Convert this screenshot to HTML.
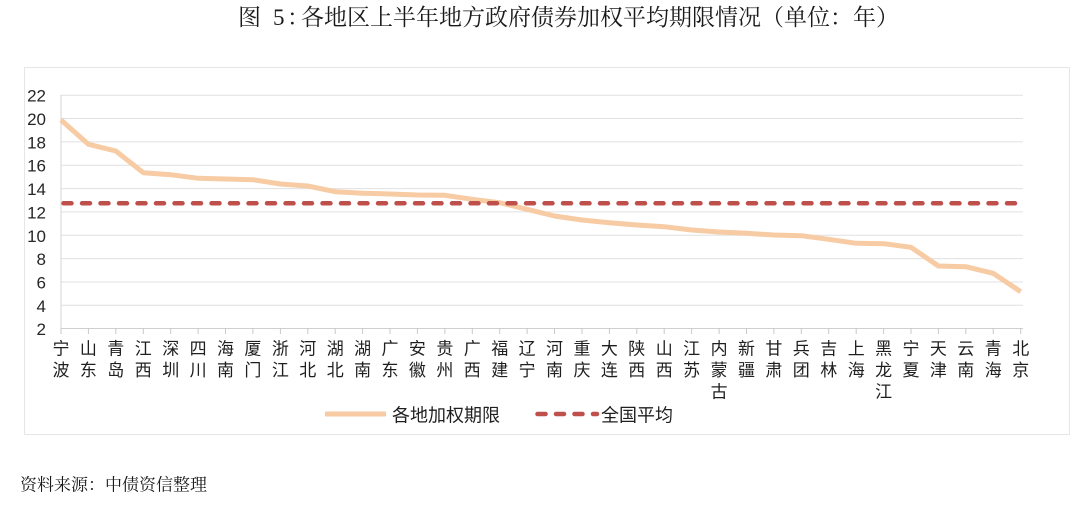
<!DOCTYPE html>
<html>
<head>
<meta charset="utf-8">
<style>
html,body{margin:0;padding:0;background:#fff;}
svg{display:block;}
</style>
</head>
<body>
<svg width="1080" height="509" viewBox="0 0 1080 509" xmlns="http://www.w3.org/2000/svg">
<rect x="0" y="0" width="1080" height="509" fill="#ffffff"/>
<!-- title -->
<g font-family="'Liberation Serif','Noto Serif CJK SC',serif" font-size="23" fill="#1a1a1a">
<text x="238" y="25">图</text>
<text x="273" y="25">5</text>
<text x="287" y="25">：</text>
<text x="301" y="25">各地区上半年地方政府债券加权平均期限情况（单位：年）</text>
</g>
<!-- chart border -->
<rect x="24.5" y="67.5" width="1045" height="367" fill="none" stroke="#e6e6e6" stroke-width="1"/>
<!-- gridlines -->
<g stroke="#e0e0e0" stroke-width="1">
<line x1="61" y1="95.2" x2="1023" y2="95.2"/>
<line x1="61" y1="118.5" x2="1023" y2="118.5"/>
<line x1="61" y1="141.9" x2="1023" y2="141.9"/>
<line x1="61" y1="165.2" x2="1023" y2="165.2"/>
<line x1="61" y1="188.6" x2="1023" y2="188.6"/>
<line x1="61" y1="211.9" x2="1023" y2="211.9"/>
<line x1="61" y1="235.3" x2="1023" y2="235.3"/>
<line x1="61" y1="258.6" x2="1023" y2="258.6"/>
<line x1="61" y1="282.0" x2="1023" y2="282.0"/>
<line x1="61" y1="305.3" x2="1023" y2="305.3"/>
</g>
<!-- axes -->
<line x1="61" y1="95" x2="61" y2="328.5" stroke="#d6d6d6" stroke-width="1"/>
<line x1="61" y1="328.5" x2="1023" y2="328.5" stroke="#d0d0d0" stroke-width="1"/>
<g stroke="#c8c8c8" stroke-width="1">
<line x1="61" y1="328" x2="61" y2="334"/>
<line x1="88.4" y1="328" x2="88.4" y2="334"/>
<line x1="115.8" y1="328" x2="115.8" y2="334"/>
<line x1="143.3" y1="328" x2="143.3" y2="334"/>
<line x1="170.7" y1="328" x2="170.7" y2="334"/>
<line x1="198.1" y1="328" x2="198.1" y2="334"/>
<line x1="225.5" y1="328" x2="225.5" y2="334"/>
<line x1="252.9" y1="328" x2="252.9" y2="334"/>
<line x1="280.4" y1="328" x2="280.4" y2="334"/>
<line x1="307.8" y1="328" x2="307.8" y2="334"/>
<line x1="335.2" y1="328" x2="335.2" y2="334"/>
<line x1="362.6" y1="328" x2="362.6" y2="334"/>
<line x1="390.0" y1="328" x2="390.0" y2="334"/>
<line x1="417.4" y1="328" x2="417.4" y2="334"/>
<line x1="444.9" y1="328" x2="444.9" y2="334"/>
<line x1="472.3" y1="328" x2="472.3" y2="334"/>
<line x1="499.7" y1="328" x2="499.7" y2="334"/>
<line x1="527.1" y1="328" x2="527.1" y2="334"/>
<line x1="554.5" y1="328" x2="554.5" y2="334"/>
<line x1="582.0" y1="328" x2="582.0" y2="334"/>
<line x1="609.4" y1="328" x2="609.4" y2="334"/>
<line x1="636.8" y1="328" x2="636.8" y2="334"/>
<line x1="664.2" y1="328" x2="664.2" y2="334"/>
<line x1="691.6" y1="328" x2="691.6" y2="334"/>
<line x1="719.1" y1="328" x2="719.1" y2="334"/>
<line x1="746.5" y1="328" x2="746.5" y2="334"/>
<line x1="773.9" y1="328" x2="773.9" y2="334"/>
<line x1="801.3" y1="328" x2="801.3" y2="334"/>
<line x1="828.7" y1="328" x2="828.7" y2="334"/>
<line x1="856.2" y1="328" x2="856.2" y2="334"/>
<line x1="883.6" y1="328" x2="883.6" y2="334"/>
<line x1="911.0" y1="328" x2="911.0" y2="334"/>
<line x1="938.4" y1="328" x2="938.4" y2="334"/>
<line x1="965.8" y1="328" x2="965.8" y2="334"/>
<line x1="993.2" y1="328" x2="993.2" y2="334"/>
<line x1="1020.7" y1="328" x2="1020.7" y2="334"/>
</g>
<!-- y labels -->
<g font-family="'Liberation Sans','Noto Sans CJK SC',sans-serif" font-size="17" fill="#262626" text-anchor="end">
<text x="46" y="101.7">22</text>
<text x="46" y="125.0">20</text>
<text x="46" y="148.4">18</text>
<text x="46" y="171.7">16</text>
<text x="46" y="195.1">14</text>
<text x="46" y="218.4">12</text>
<text x="46" y="241.8">10</text>
<text x="46" y="265.1">8</text>
<text x="46" y="288.5">6</text>
<text x="46" y="311.8">4</text>
<text x="46" y="335.2">2</text>
</g>
<!-- series: regional -->
<polyline fill="none" stroke="#f7cba3" stroke-width="5" stroke-linejoin="round" stroke-linecap="butt"
points="61,120 88.4,144.3 115.8,151 143.3,172.7 170.7,174.7 198.1,178.3 225.5,179 252.9,179.7 280.4,184 307.8,186 335.2,191.7 362.6,193.3 390,194 417.4,195 444.9,195.3 472.3,199.3 499.7,202.7 527.1,209.3 554.5,216 582,220 609.4,222.7 636.8,225 664.2,226.7 691.6,230 719.1,232 746.5,233.3 773.9,235 801.3,235.7 828.7,239.3 856.2,243.3 883.6,243.7 911,247.3 938.4,266 965.8,266.7 993.2,273.3 1020.7,291.7"/>
<!-- series: national average -->
<line x1="63.5" y1="203.3" x2="1021" y2="203.3" stroke="#be4f4b" stroke-width="4.5" stroke-linecap="round" stroke-dasharray="8 10.5"/>
<!-- x labels -->
<g font-family="'Liberation Sans','Noto Sans CJK SC',sans-serif" font-size="17" fill="#1f1f1f" text-anchor="middle">
<text y="354.3"><tspan x="61">宁</tspan><tspan x="61" dy="21.7">波</tspan></text>
<text y="354.3"><tspan x="88.4">山</tspan><tspan x="88.4" dy="21.7">东</tspan></text>
<text y="354.3"><tspan x="115.8">青</tspan><tspan x="115.8" dy="21.7">岛</tspan></text>
<text y="354.3"><tspan x="143.3">江</tspan><tspan x="143.3" dy="21.7">西</tspan></text>
<text y="354.3"><tspan x="170.7">深</tspan><tspan x="170.7" dy="21.7">圳</tspan></text>
<text y="354.3"><tspan x="198.1">四</tspan><tspan x="198.1" dy="21.7">川</tspan></text>
<text y="354.3"><tspan x="225.5">海</tspan><tspan x="225.5" dy="21.7">南</tspan></text>
<text y="354.3"><tspan x="252.9">厦</tspan><tspan x="252.9" dy="21.7">门</tspan></text>
<text y="354.3"><tspan x="280.4">浙</tspan><tspan x="280.4" dy="21.7">江</tspan></text>
<text y="354.3"><tspan x="307.8">河</tspan><tspan x="307.8" dy="21.7">北</tspan></text>
<text y="354.3"><tspan x="335.2">湖</tspan><tspan x="335.2" dy="21.7">北</tspan></text>
<text y="354.3"><tspan x="362.6">湖</tspan><tspan x="362.6" dy="21.7">南</tspan></text>
<text y="354.3"><tspan x="390.0">广</tspan><tspan x="390.0" dy="21.7">东</tspan></text>
<text y="354.3"><tspan x="417.4">安</tspan><tspan x="417.4" dy="21.7">徽</tspan></text>
<text y="354.3"><tspan x="444.9">贵</tspan><tspan x="444.9" dy="21.7">州</tspan></text>
<text y="354.3"><tspan x="472.3">广</tspan><tspan x="472.3" dy="21.7">西</tspan></text>
<text y="354.3"><tspan x="499.7">福</tspan><tspan x="499.7" dy="21.7">建</tspan></text>
<text y="354.3"><tspan x="527.1">辽</tspan><tspan x="527.1" dy="21.7">宁</tspan></text>
<text y="354.3"><tspan x="554.5">河</tspan><tspan x="554.5" dy="21.7">南</tspan></text>
<text y="354.3"><tspan x="582.0">重</tspan><tspan x="582.0" dy="21.7">庆</tspan></text>
<text y="354.3"><tspan x="609.4">大</tspan><tspan x="609.4" dy="21.7">连</tspan></text>
<text y="354.3"><tspan x="636.8">陕</tspan><tspan x="636.8" dy="21.7">西</tspan></text>
<text y="354.3"><tspan x="664.2">山</tspan><tspan x="664.2" dy="21.7">西</tspan></text>
<text y="354.3"><tspan x="691.6">江</tspan><tspan x="691.6" dy="21.7">苏</tspan></text>
<text y="354.3"><tspan x="719.1">内</tspan><tspan x="719.1" dy="21.7">蒙</tspan><tspan x="719.1" dy="21.7">古</tspan></text>
<text y="354.3"><tspan x="746.5">新</tspan><tspan x="746.5" dy="21.7">疆</tspan></text>
<text y="354.3"><tspan x="773.9">甘</tspan><tspan x="773.9" dy="21.7">肃</tspan></text>
<text y="354.3"><tspan x="801.3">兵</tspan><tspan x="801.3" dy="21.7">团</tspan></text>
<text y="354.3"><tspan x="828.7">吉</tspan><tspan x="828.7" dy="21.7">林</tspan></text>
<text y="354.3"><tspan x="856.2">上</tspan><tspan x="856.2" dy="21.7">海</tspan></text>
<text y="354.3"><tspan x="883.6">黑</tspan><tspan x="883.6" dy="21.7">龙</tspan><tspan x="883.6" dy="21.7">江</tspan></text>
<text y="354.3"><tspan x="911.0">宁</tspan><tspan x="911.0" dy="21.7">夏</tspan></text>
<text y="354.3"><tspan x="938.4">天</tspan><tspan x="938.4" dy="21.7">津</tspan></text>
<text y="354.3"><tspan x="965.8">云</tspan><tspan x="965.8" dy="21.7">南</tspan></text>
<text y="354.3"><tspan x="993.2">青</tspan><tspan x="993.2" dy="21.7">海</tspan></text>
<text y="354.3"><tspan x="1020.7">北</tspan><tspan x="1020.7" dy="21.7">京</tspan></text>
</g>
<!-- legend -->
<line x1="325" y1="414" x2="386" y2="414" stroke="#f7cba3" stroke-width="5"/>
<line x1="537.5" y1="414" x2="597" y2="414" stroke="#be4f4b" stroke-width="4.5" stroke-linecap="round" stroke-dasharray="8 10.5"/>
<g font-family="'Liberation Sans','Noto Sans CJK SC',sans-serif" font-size="18" fill="#1f1f1f">
<text x="392" y="421.5">各地加权期限</text>
<text x="601" y="421.5">全国平均</text>
</g>
<!-- source -->
<text x="20" y="490.5" font-family="'Liberation Serif','Noto Serif CJK SC',serif" font-size="17" fill="#1a1a1a">资料来源：中债资信整理</text>
</svg>
</body>
</html>
